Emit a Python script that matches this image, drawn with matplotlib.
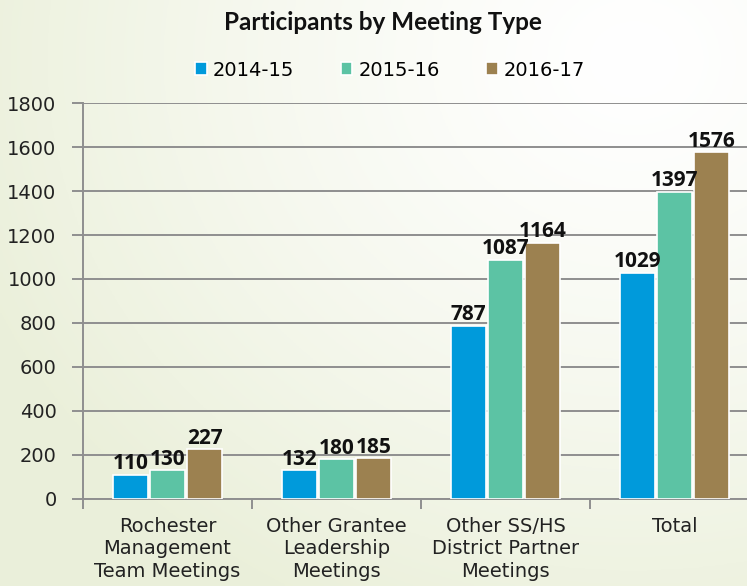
import matplotlib
matplotlib.use("Agg")
import matplotlib.pyplot as plt
import numpy as np

categories = ["Rochester\nManagement\nTeam Meetings", "Other Grantee\nLeadership\nMeetings",
              "Other SS/HS\nDistrict Partner\nMeetings", "Total"]
series = ["2014-15", "2015-16", "2016-17"]
v_2014 = [110, 132, 787, 1029]
v_2015 = [130, 180, 1087, 1397]
v_2016 = [227, 185, 1164, 1576]
colors = ["#009ADB", "#5CC3A4", "#9C8150"]
yticks = [0, 200, 400, 600, 800, 1000, 1200, 1400, 1600, 1800]

W, H = 747, 586
fig = plt.figure(figsize=(W / 100, H / 100), dpi=100)

# soft green-to-white background
bg = fig.add_axes([0, 0, 1, 1])
yy, xx = np.mgrid[0:1:200j, 0:1:260j]
d = np.sqrt(((xx - 0.85) * 1.0) ** 2 + ((yy - 0.9) * 0.9) ** 2)
t = np.clip(d / 0.95, 0, 1) ** 1.3
c0 = np.array([1.0, 1.0, 1.0])
c1 = np.array([0.92, 0.94, 0.855])
img = c0[None, None, :] * (1 - t[..., None]) + c1[None, None, :] * t[..., None]
bg.imshow(img, extent=[0, 1, 0, 1], aspect="auto", origin="lower")
bg.axis("off")

ax = fig.add_axes([83 / W, 87 / H, 676 / W, 396 / H])
ax.patch.set_alpha(0)

x = np.arange(len(categories))
w = 0.205
step = 0.22
for i, (vals, lab) in enumerate(zip([v_2014, v_2015, v_2016], series)):
    pos = x + (i - 1) * step
    bars = ax.bar(pos, vals, width=w, color=colors[i], edgecolor="white", linewidth=1.2,
                  label=lab, zorder=3)
    for b, v in zip(bars, vals):
        ax.text(b.get_x() + b.get_width() / 2, v + 2, str(v), ha="center", va="bottom",
                fontsize=15, fontweight="bold", family="Open Sans", color="#111111", zorder=4)

ax.set_xlim(-0.5, 3.5)
ax.set_ylim(0, 1800)
ax.set_yticks(yticks)
ax.set_yticklabels([str(v) for v in yticks], fontsize=14, family="DejaVu Sans", color="#222222")
ax.yaxis.grid(True, color="#8f8f8f", linewidth=1.4, zorder=0)
ax.set_axisbelow(True)
ax.tick_params(axis="y", length=8, width=1.4, color="#8f8f8f", pad=11)

ax.set_xticks(x)
ax.set_xticklabels(categories, fontsize=14, family="DejaVu Sans", color="#222222", linespacing=1.22)
ax.tick_params(axis="x", length=0, pad=13)
ax.set_xticks(np.arange(-0.5, 3.5, 1.0), minor=True)
ax.tick_params(axis="x", which="minor", length=7, width=1.4, color="#8f8f8f")

for s in ["top", "right"]:
    ax.spines[s].set_visible(False)
for s in ["left", "bottom"]:
    ax.spines[s].set_color("#8f8f8f")
    ax.spines[s].set_linewidth(1.4)

fig.text(383 / W, 1 - 22 / H, "Participants by Meeting Type", ha="center", va="center",
         fontsize=17.5, fontweight="bold", family="Lato", color="#111111")

handles, labels = ax.get_legend_handles_labels()
fig.legend(handles, labels, loc="center", bbox_to_anchor=(390 / W, 1 - 70 / H), ncol=3,
           frameon=False, prop={"family": "DejaVu Sans", "size": 14}, handlelength=0.6,
           handleheight=0.6, handletextpad=0.3, columnspacing=2.4)

fig.savefig("out.png", dpi=100)
